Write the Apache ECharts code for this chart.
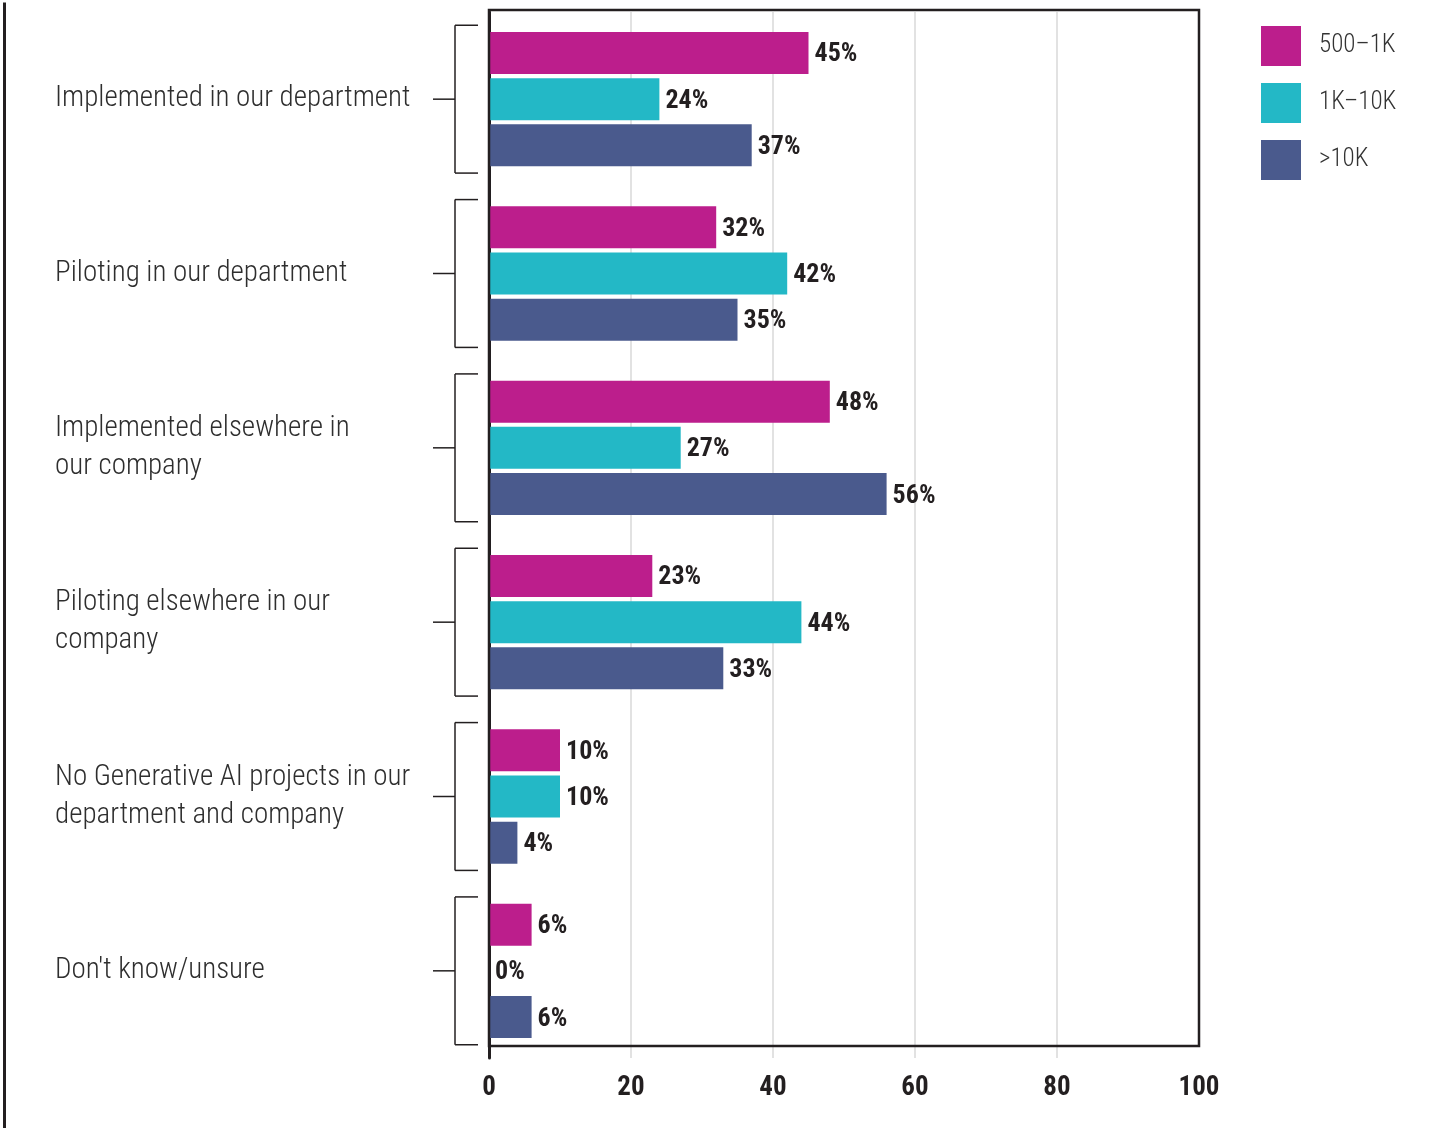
<!DOCTYPE html>
<html>
<head>
<meta charset="utf-8">
<script src="https://cdn.jsdelivr.net/npm/echarts@6/dist/echarts.min.js"></script>
<style>
  html, body { margin: 0; padding: 0; background: #fff; }
  #chart { width: 1442px; height: 1128px; }
</style>
</head>
<body>
<div id="chart"></div>
<script>
// Generative AI project status by company size (percent of respondents)
const categories = [
  'Implemented in our department',
  'Piloting in our department',
  'Implemented elsewhere in\nour company',
  'Piloting elsewhere in our\ncompany',
  'No Generative AI projects in our\ndepartment and company',
  "Don't know/unsure"
];
const seriesNames = ['500\u20131K', '1K\u201310K', '>10K'];
const small = [45, 32, 48, 23, 10, 6];   // 500–1K
const mid = [24, 42, 27, 44, 10, 0];     // 1K–10K
const large = [37, 35, 56, 33, 4, 6];    // >10K
const xTicks = [0, 20, 40, 60, 80, 100];

const colors = ['#BC1E8C', '#23B8C6', '#4A5A8D'];
const ink = '#231f20';
const narrow = '"Roboto Condensed", "Liberation Sans Narrow", "DejaVu Sans Condensed", "Roboto", sans-serif';

const chart = echarts.init(document.getElementById('chart'), null, { renderer: 'canvas' });

function barSeries(name, values, color) {
  return {
    name: name,
    type: 'bar',
    xAxisIndex: 0,
    yAxisIndex: 0,
    data: values,
    barWidth: 42,
    barGap: '10%',
    itemStyle: { color: color },
    label: {
      show: true,
      position: 'right',
      distance: 6,
      offset: [0, 2],
      formatter: '{c}%',
      fontFamily: narrow,
      fontWeight: 'bold',
      fontSize: 26,
      color: ink
    },
    z: 3
  };
}

// Bracket drawn beside every category group
function bracketItem(params, api) {
  const idx = api.value(1);
  const c = api.coord([0, idx]);
  const band = api.size([0, 1])[1];
  const half = band * 0.424;
  const x0 = c[0];
  const y = c[1];
  const xv = x0 - 34;
  const style = { stroke: ink, lineWidth: 1.5, fill: null };
  return {
    type: 'group',
    children: [
      { type: 'line', shape: { x1: xv, y1: y - half, x2: xv, y2: y + half }, style: style },
      { type: 'line', shape: { x1: xv, y1: y - half, x2: x0 - 11, y2: y - half }, style: style },
      { type: 'line', shape: { x1: xv, y1: y + half, x2: x0 - 11, y2: y + half }, style: style },
      { type: 'line', shape: { x1: x0 - 56, y1: y, x2: xv, y2: y }, style: style }
    ]
  };
}

const option = {
  backgroundColor: '#ffffff',
  animation: false,
  grid: [
    { left: 489, right: 243, top: 12, bottom: 70, containLabel: false },
    { left: 489, right: 243, top: 10, bottom: 82, show: true, borderColor: ink, borderWidth: 2.5, backgroundColor: 'transparent', z: 4 }
  ],
  legend: {
    orient: 'vertical',
    left: 1261,
    top: 26,
    padding: 0,
    itemWidth: 40,
    itemHeight: 40,
    itemGap: 17,
    icon: 'rect',
    data: seriesNames,
    selectedMode: false,
    textStyle: {
      fontFamily: narrow,
      fontWeight: 300,
      fontSize: 25,
      color: '#333',
      padding: [0, 0, 0, 13]
    }
  },
  xAxis: [
    {
      type: 'value',
      gridIndex: 0,
      min: 0,
      max: 100,
      interval: 20,
      axisLine: { show: false },
      axisTick: { show: false },
      splitLine: { show: true, showMinLine: false, showMaxLine: false, lineStyle: { color: '#d9d9d9', width: 1.5 } },
      axisLabel: {
        margin: 17,
        fontFamily: narrow,
        fontWeight: 'bold',
        fontSize: 27,
        color: ink,
        formatter: function (v) { return xTicks.indexOf(v) >= 0 ? String(v) : ''; }
      }
    },
    { type: 'value', gridIndex: 1, show: false, min: 0, max: 100 }
  ],
  yAxis: [
    {
      type: 'category',
      gridIndex: 0,
      data: categories,
      inverse: true,
      axisLine: { show: true, lineStyle: { color: ink, width: 3 } },
      axisTick: { show: false },
      splitLine: { show: false },
      axisLabel: {
        margin: 434,
        align: 'left',
        fontFamily: narrow,
        fontWeight: 300,
        fontSize: 29,
        lineHeight: 38,
        color: '#2e2e2e'
      }
    },
    { type: 'category', gridIndex: 1, show: false, data: categories }
  ],
  series: [
    barSeries(seriesNames[0], small, colors[0]),
    barSeries(seriesNames[1], mid, colors[1]),
    barSeries(seriesNames[2], large, colors[2]),
    {
      name: 'brackets',
      type: 'custom',
      xAxisIndex: 0,
      yAxisIndex: 0,
      clip: false,
      silent: true,
      renderItem: bracketItem,
      encode: { x: 0, y: 1 },
      data: categories.map(function (c, i) { return [0, i]; }),
      z: 5
    }
  ],
  graphic: [
    {
      type: 'line',
      left: 2,
      top: 0,
      shape: { x1: 0, y1: 0, x2: 0, y2: 1128 },
      style: { stroke: ink, lineWidth: 3 }
    }
  ]
};

chart.setOption(option);
</script>
</body>
</html>
